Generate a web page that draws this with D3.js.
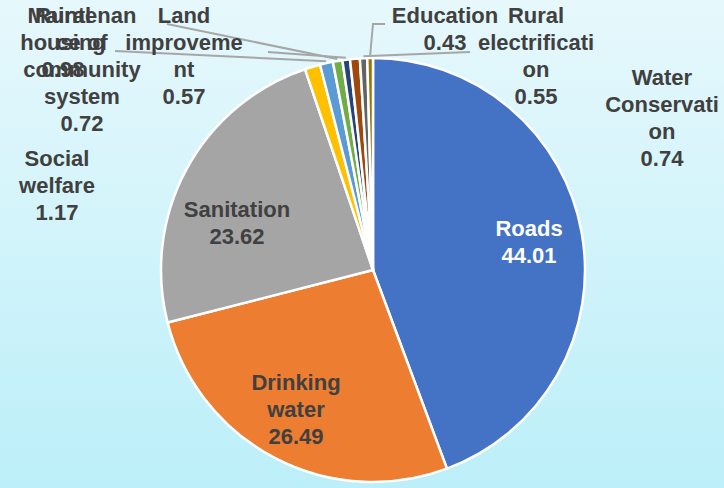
<!DOCTYPE html>
<html>
<head>
<meta charset="utf-8">
<script src="https://cdn.jsdelivr.net/npm/d3@7"></script>
<style>
  body { margin: 0; }
  svg { display: block; }
  .lbl { font-family: "Liberation Sans", Arial, sans-serif; font-weight: bold; font-size: 22px; }
</style>
</head>
<body>
<svg id="chart" width="724" height="488"></svg>
<script>
// data, in slice order (clockwise from 12 o'clock)
var categories = ["Roads", "Drinking water", "Sanitation", "Social welfare", "Rural housing",
	"Maintenance of community system", "Land improvement", "Water Conservation",
	"Rural electrification", "Education"];
var values = [44.01, 26.49, 23.62, 1.17, 0.98, 0.72, 0.57, 0.74, 0.55, 0.43];
var colors = ["#4472C4", "#ED7D31", "#A5A5A5", "#FFC000", "#5B9BD5",
	"#70AD47", "#264478", "#9E480E", "#636363", "#997300"];

// label text is wrapped the way the original wraps it
var labelLines = [
	["Roads"], ["Drinking", "water"], ["Sanitation"], ["Social", "welfare"], ["Rural", "housing"],
	["Maintenan", "ce of", "community", "system"], ["Land", "improveme", "nt"],
	["Water", "Conservati", "on"], ["Rural", "electrificati", "on"], ["Education"]
];

// label layout: centre x, first baseline, leader start (null = no leader)
var labelPos = [
	{x: 529, y: 236, fill: "#fff"},
	{x: 296, y: 390},
	{x: 237, y: 217},
	{x: 57, y: 166},
	{x: 63, y: 23, lead: [[115, 51]]},
	{x: 82, y: 23, lead: [[167, 24]]},
	{x: 184, y: 23, lead: [[268, 52]]},
	{x: 662, y: 85},
	{x: 536, y: 23, lead: [[470, 52]]},
	{x: 445, y: 23, lead: [[385, 24], [373, 24]]}
];

var svg = d3.select("#chart"),
	width = 724, height = 488,
	cx = 373, cy = 270, radius = 212,
	lineH = 27;

var defs = svg.append("defs");
var grad = defs.append("linearGradient")
	.attr("id", "bg")
	.attr("x1", 0).attr("y1", 0).attr("x2", 0).attr("y2", 1);
grad.append("stop").attr("offset", "0%").attr("stop-color", "#E6F8FC");
grad.append("stop").attr("offset", "100%").attr("stop-color", "#BCEFF9");

svg.append("rect")
	.attr("width", width)
	.attr("height", height)
	.attr("fill", "url(#bg)");

var pie = d3.pie().sort(null).value(function(d) { return d; });
var arcs = pie(values);

var arc = d3.arc().innerRadius(0).outerRadius(radius);

var g = svg.append("g")
	.attr("transform", "translate(" + cx + "," + cy + ")");

// leader lines first, so the labels sit on top
arcs.forEach(function(a, i) {
	var p = labelPos[i];
	if (!p.lead) return;
	var mid = (a.startAngle + a.endAngle) / 2;
	var end = [cx + (radius + 2) * Math.sin(mid), cy - (radius + 2) * Math.cos(mid)];
	var pts = p.lead.concat([end]);
	svg.append("path")
		.attr("d", d3.line()(pts))
		.attr("fill", "none")
		.attr("stroke", "#A6A6A6")
		.attr("stroke-width", 2);
});

g.selectAll("path.slice")
	.data(arcs)
	.enter().append("path")
	.attr("class", "slice")
	.attr("d", arc)
	.attr("fill", function(d, i) { return colors[i]; })
	.attr("stroke", "#fff")
	.attr("stroke-width", 2.5)
	.attr("stroke-linejoin", "round");

arcs.forEach(function(a, i) {
	var p = labelPos[i];
	var lines = labelLines[i].concat([values[i].toFixed(2)]);
	var t = svg.append("text")
		.attr("class", "lbl")
		.attr("text-anchor", "middle")
		.attr("fill", p.fill || "#404040");
	lines.forEach(function(s, k) {
		t.append("tspan")
			.attr("x", p.x)
			.attr("y", p.y + k * lineH)
			.text(s);
	});
});
</script>
</body>
</html>
